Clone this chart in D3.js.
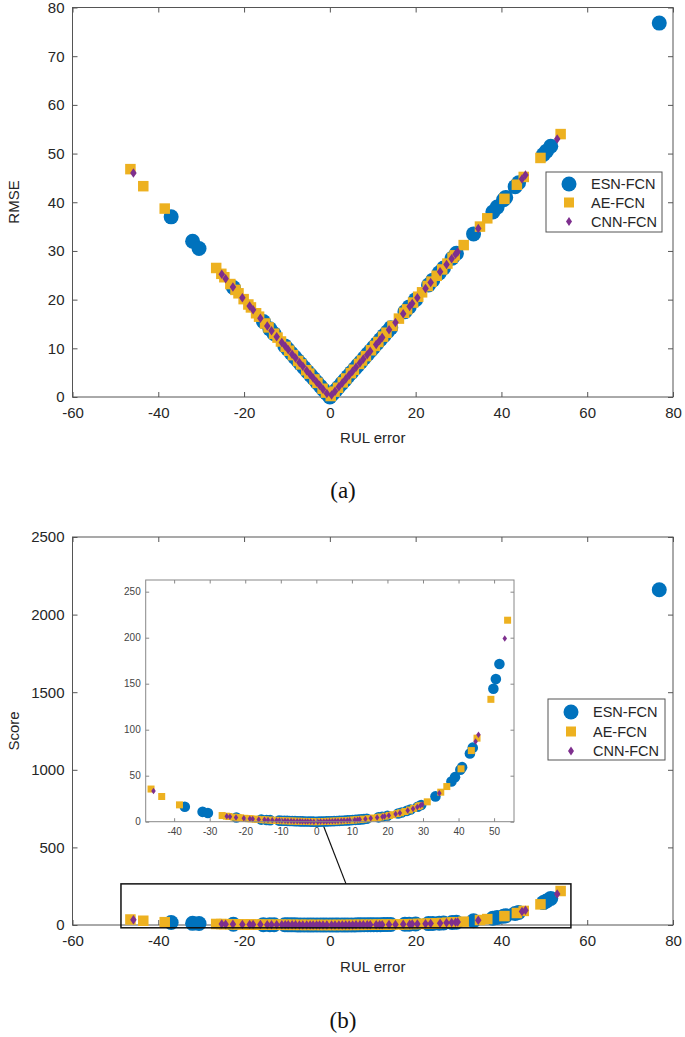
<!DOCTYPE html>
<html><head><meta charset="utf-8">
<script src="https://cdn.jsdelivr.net/npm/d3@7"></script>
<style>body{margin:0;background:#fff}svg{display:block}</style>
</head><body>
<script>
// ---------- data ----------
const seriesNames = ["ESN-FCN", "AE-FCN", "CNN-FCN"];

const esnErr   = [-37,-32,-30.5,-22.5,-15.5,-14,-13,-10.5,-9.8,-9,-8.2,-7.5,-6.8,-6,-5.2,-4.5,-3.8,-3,-2.2,-1.5,-0.8,0,0.7,1.4,2,2.8,3.5,4.2,5,5.8,6.5,7.2,8,8.8,9.5,10.2,11,11.8,12.6,13.4,14.2,17.5,18.5,20,23,24,25.5,26.5,28.5,29.5,33.5,38,39,40.5,41,43.2,44,49.8,50.5,51.5,76.8];
const esnRmse  = [37,32,30.5,22.5,15.5,14,13,10.5,9.8,9,8.2,7.5,6.8,6,5.2,4.5,3.8,3,2.2,1.5,0.8,0,0.7,1.4,2,2.8,3.5,4.2,5,5.8,6.5,7.2,8,8.8,9.5,10.2,11,11.8,12.6,13.4,14.2,17.5,18.5,20,23,24,25.5,26.5,28.5,29.5,33.5,38,39,40.5,41,43.2,44,49.8,50.5,51.5,76.8];
const esnScore = [16.2,10.7,9.5,4.6,2.3,1.9,1.7,1.2,1.1,1.0,0.9,0.8,0.7,0.6,0.5,0.4,0.34,0.26,0.18,0.12,0.06,0,0.07,0.15,0.22,0.32,0.42,0.52,0.65,0.79,0.92,1.05,1.23,1.41,1.59,1.77,2.0,2.25,2.5,2.82,3.14,4.75,5.36,6.39,8.97,10.0,11.8,13.2,16.3,18.1,27.5,43.7,48.4,56.4,59.3,74.2,80.5,144.5,155,171.4,2160];

const aeErr   = [-46.5,-43.5,-38.5,-26.5,-25.3,-24.6,-23.2,-22,-21.3,-20.1,-19,-18.4,-17.2,-16.5,-15.1,-14.3,-13,-12.2,-11.4,-10.3,-9.5,-8.6,-7.4,-6.7,-5.5,-4.8,-3.6,-2.9,-1.7,-0.9,0.2,1.1,1.9,3.0,3.8,4.9,5.6,6.8,7.5,8.4,9.6,10.5,11.3,12.4,13.2,14.6,16.1,17.3,18.0,19.4,20.6,21.5,22.8,23.7,24.9,26.2,27.4,28.6,29.1,31.2,35,36.7,40.7,43.6,45.2,49.1,53.8];
const aeRmse  = [46.8,43.3,38.7,26.5,25.3,24.6,23.2,22,21.3,20.1,19,18.4,17.2,16.5,15.1,14.3,13,12.2,11.4,10.3,9.5,8.6,7.4,6.7,5.5,4.8,3.6,2.9,1.7,0.9,0.2,1.1,1.9,3.0,3.8,4.9,5.6,6.8,7.5,8.4,9.6,10.5,11.3,12.4,13.2,14.6,16.1,17.3,18.0,19.4,20.6,21.5,22.8,23.7,24.9,26.2,27.4,28.6,29.1,31.2,35,36.7,40.7,43.6,45.2,49.1,54];
const aeScore = [35.5,27.4,18.3,6.7,6.0,5.6,4.96,4.43,4.15,3.69,3.31,3.12,2.76,2.56,2.2,2.0,1.72,1.56,1.4,1.21,1.08,0.94,0.77,0.67,0.53,0.45,0.32,0.25,0.14,0.07,0.02,0.12,0.21,0.35,0.46,0.63,0.75,0.97,1.12,1.32,1.61,1.86,2.1,2.46,2.74,3.3,4.0,4.64,5.05,5.96,6.85,7.58,8.78,9.7,11.06,12.7,14.5,16.5,17.4,21.6,32.1,38.2,57.5,77.3,90.8,133,219];

const cnnErr   = [-45.8,-25.2,-24.3,-22.6,-20.4,-18.7,-17.9,-16.2,-14.6,-13.6,-12.4,-11.2,-10.4,-9.7,-8.8,-8,-7.1,-6.3,-5.4,-4.6,-3.9,-3.1,-2.4,-1.6,-0.7,0.4,1.2,2.1,2.9,3.7,4.5,5.3,6.1,7.0,7.8,8.7,9.4,10.8,11.6,12.2,13.8,15.3,17.1,18.6,19.2,20.4,22.3,23.5,25.7,27.2,28.4,29.3,29.8,34.6,44.8,45.6,53];
const cnnRmse  = [46,25.2,24.3,22.6,20.4,18.7,17.9,16.2,14.6,13.6,12.4,11.2,10.4,9.7,8.8,8,7.1,6.3,5.4,4.6,3.9,3.1,2.4,1.6,0.7,0.4,1.2,2.1,2.9,3.7,4.5,5.3,6.1,7.0,7.8,8.7,9.4,10.8,11.6,12.2,13.8,15.3,17.1,18.6,19.2,20.4,22.3,23.5,25.7,27.2,28.4,29.3,29.8,34.6,44.8,45.6,53];
const cnnScore = [33.4,5.95,5.48,4.69,3.8,3.21,2.96,2.48,2.07,1.85,1.6,1.37,1.23,1.11,0.97,0.85,0.73,0.62,0.51,0.42,0.35,0.27,0.2,0.13,0.06,0.04,0.13,0.23,0.34,0.45,0.57,0.7,0.84,1.01,1.18,1.39,1.56,1.94,2.19,2.39,2.97,3.62,4.53,5.42,5.82,6.69,8.3,9.49,12.07,14.18,16.1,17.73,18.7,31,87.2,94.6,199];

const xTicksMain   = [-60,-40,-20,0,20,40,60,80];
const yTicksRmse   = [0,10,20,30,40,50,60,70,80];
const yTicksScore  = [0,500,1000,1500,2000,2500];
const xTicksInset  = [-40,-30,-20,-10,0,10,20,30,40,50];
const yTicksInset  = [0,50,100,150,200,250];

// ---------- style ----------
const colors = ["#0072BD", "#EDB120", "#7E2F8E"];
const axisCol = "#555";
const textCol = "#262626";
const font = "'Liberation Sans', Arial, sans-serif";

const W = 685, H = 1037;
const svg = d3.select("body").append("svg").attr("width", W).attr("height", H)
  .style("font-family", font);

const x = d3.scaleLinear().domain([-60, 80]).range([72.5, 673]);

function diamondPath(cx, cy, w, h) {
  return `M${cx},${cy - h/2}L${cx + w/2},${cy}L${cx},${cy + h/2}L${cx - w/2},${cy}Z`;
}

function drawMarkers(g, xs, ys, sizes, datasets) {
  const [esn, ae, cnn] = datasets;
  g.append("g").selectAll("circle").data(d3.range(esn[0].length)).join("circle")
    .attr("cx", i => xs(esn[0][i])).attr("cy", i => ys(esn[1][i]))
    .attr("r", sizes.r).attr("fill", colors[0]);
  g.append("g").selectAll("rect").data(d3.range(ae[0].length)).join("rect")
    .attr("x", i => xs(ae[0][i]) - sizes.s/2).attr("y", i => ys(ae[1][i]) - sizes.s/2)
    .attr("width", sizes.s).attr("height", sizes.s).attr("fill", colors[1]);
  g.append("g").selectAll("path").data(d3.range(cnn[0].length)).join("path")
    .attr("d", i => diamondPath(xs(cnn[0][i]), ys(cnn[1][i]), sizes.dw, sizes.dh))
    .attr("fill", colors[2]);
}

const fmt = d => String(d);

function drawFrame(g, xs, ys, xt, yt, opts) {
  const [x0, x1] = xs.range();
  const [y0, y1] = ys.range(); // y0 bottom, y1 top
  const tl = opts.tick;
  const ax = g.append("g").attr("transform", `translate(0,${y0})`)
    .call(d3.axisBottom(xs).tickValues(xt).tickSize(-tl).tickPadding(opts.xpad).tickFormat(fmt));
  const axT = g.append("g").attr("transform", `translate(0,${y1})`)
    .call(d3.axisTop(xs).tickValues(xt).tickSize(-tl).tickFormat(""));
  const ay = g.append("g").attr("transform", `translate(${x0},0)`)
    .call(d3.axisLeft(ys).tickValues(yt).tickSize(-tl).tickPadding(opts.ypad).tickFormat(fmt));
  const ayR = g.append("g").attr("transform", `translate(${x1},0)`)
    .call(d3.axisRight(ys).tickValues(yt).tickSize(-tl).tickFormat(""));
  [ax, axT, ay, ayR].forEach(a => {
    a.select(".domain").remove();
    a.selectAll("line").attr("stroke", opts.col).attr("stroke-width", 1);
    a.selectAll("text").attr("fill", opts.textCol).style("font-size", opts.fs + "px").style("font-family", font);
  });
  g.append("rect").attr("x", x0).attr("y", y1).attr("width", x1 - x0).attr("height", y0 - y1)
    .attr("fill", "none").attr("stroke", opts.col).attr("stroke-width", 1);
}

function drawLegend(g, lx, ly, lw, lh, rowY) {
  g.append("rect").attr("x", lx).attr("y", ly).attr("width", lw).attr("height", lh)
    .attr("fill", "#fff").attr("stroke", "#555").attr("stroke-width", 1);
  const mx = lx + 23;
  g.append("circle").attr("cx", mx).attr("cy", rowY[0]).attr("r", 7.5).attr("fill", colors[0]);
  g.append("rect").attr("x", mx - 5).attr("y", rowY[1] - 5).attr("width", 10).attr("height", 10).attr("fill", colors[1]);
  g.append("path").attr("d", diamondPath(mx, rowY[2], 6, 9)).attr("fill", colors[2]);
  seriesNames.forEach((n, i) => {
    g.append("text").attr("x", lx + 45).attr("y", rowY[i]).attr("dy", "0.36em")
      .attr("fill", textCol).style("font-size", "14.5px").text(n);
  });
}

const mainOpts = {tick: 5, xpad: 10, ypad: 8, col: axisCol, textCol: textCol, fs: 15};
const bigSizes = {r: 7.5, s: 10.5, dw: 6.5, dh: 9.5};

// ---------- panel (a) ----------
const gA = svg.append("g");
const yA = d3.scaleLinear().domain([0, 80]).range([397, 7.5]);
drawFrame(gA, x, yA, xTicksMain, yTicksRmse, mainOpts);
drawMarkers(gA, x, yA, bigSizes, [[esnErr, esnRmse], [aeErr, aeRmse], [cnnErr, cnnRmse]]);
drawLegend(gA, 546, 172, 116, 60, [184, 202.5, 221.5]);
gA.append("text").attr("x", (72.5 + 673) / 2).attr("y", 438).attr("dy", "0.35em")
  .attr("text-anchor", "middle").attr("fill", textCol).style("font-size", "15px").text("RUL error");
gA.append("text").attr("transform", "translate(14,202) rotate(-90)").attr("dy", "0.35em")
  .attr("text-anchor", "middle").attr("fill", textCol).style("font-size", "15px").text("RMSE");
svg.append("text").attr("x", 343).attr("y", 490).attr("dy", "0.35em").attr("text-anchor", "middle")
  .style("font-family", "'Liberation Serif', 'DejaVu Serif', serif").style("font-size", "23px")
  .attr("fill", "#111").text("(a)");

// ---------- panel (b) ----------
const gB = svg.append("g");
const yB = d3.scaleLinear().domain([0, 2500]).range([925, 537]);
drawFrame(gB, x, yB, xTicksMain, yTicksScore, mainOpts);
drawMarkers(gB, x, yB, bigSizes, [[esnErr, esnScore], [aeErr, aeScore], [cnnErr, cnnScore]]);
drawLegend(gB, 548, 699, 117, 61, [712, 731.5, 751]);
gB.append("text").attr("x", (72.5 + 673) / 2).attr("y", 967).attr("dy", "0.35em")
  .attr("text-anchor", "middle").attr("fill", textCol).style("font-size", "15px").text("RUL error");
gB.append("text").attr("transform", "translate(14,731) rotate(-90)").attr("dy", "0.35em")
  .attr("text-anchor", "middle").attr("fill", textCol).style("font-size", "15px").text("Score");
svg.append("text").attr("x", 343).attr("y", 1020).attr("dy", "0.35em").attr("text-anchor", "middle")
  .style("font-family", "'Liberation Serif', 'DejaVu Serif', serif").style("font-size", "23px")
  .attr("fill", "#111").text("(b)");

// zoom box on main panel (b)
const zoomX = [-48.7, 56.2], zoomY = [-18, 265];
gB.append("rect").attr("x", x(zoomX[0])).attr("y", yB(zoomY[1]))
  .attr("width", x(zoomX[1]) - x(zoomX[0])).attr("height", yB(zoomY[0]) - yB(zoomY[1]))
  .attr("fill", "none").attr("stroke", "#111").attr("stroke-width", 1.5);
gB.append("line").attr("x1", 322).attr("y1", 822).attr("x2", 346).attr("y2", yB(zoomY[1]))
  .attr("stroke", "#111").attr("stroke-width", 1.2);

// ---------- inset ----------
const gI = svg.append("g");
const xI = d3.scaleLinear().domain([-48, 55.6]).range([145.7, 514]);
const yI = d3.scaleLinear().domain([0, 262.7]).range([821.7, 580]);
gI.append("rect").attr("x", 145.7).attr("y", 580).attr("width", 514 - 145.7).attr("height", 821.7 - 580)
  .attr("fill", "#fff");
drawMarkers(gI, xI, yI, {r: 5.3, s: 7, dw: 4.5, dh: 6.5},
  [[esnErr.slice(0, -1), esnScore.slice(0, -1)], [aeErr, aeScore], [cnnErr, cnnScore]]);
drawFrame(gI, xI, yI, xTicksInset, yTicksInset,
  {tick: 3.5, xpad: 6, ypad: 5, col: "#888", textCol: "#444", fs: 10});
</script>
</body></html>
